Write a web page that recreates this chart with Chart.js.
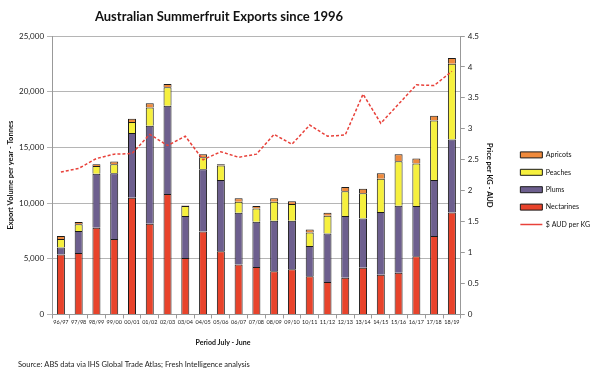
<!DOCTYPE html>
<html>
<head>
<meta charset="utf-8">
<script src="https://cdn.jsdelivr.net/npm/chart.js@4.4.1/dist/chart.umd.min.js"></script>
<style>
  html, body { margin: 0; padding: 0; background: #fff; }
  #wrap { width: 600px; height: 375px; }
</style>
</head>
<body>
<div id="wrap"><canvas id="c" width="600" height="375"></canvas></div>
<script>
const categories = ['96/97','97/98','98/99','99/00','00/01','01/02','02/03','03/04','04/05','05/06','06/07','07/08','08/09','09/10','10/11','11/12','12/13','13/14','14/15','15/16','16/17','17/18','18/19'];
const nectarines = [5380,5520,7780,6760,10480,8140,10810,5070,7450,5680,4480,4260,3870,4050,3420,2910,3300,4200,3570,3750,5230,7030,9150];
const plums      = [620,1960,4860,5910,5800,8800,7930,3760,5580,6390,4650,4060,4540,4360,2730,4360,5530,4420,5620,6010,4500,5040,6550];
const peaches    = [780,620,690,820,990,1650,1650,900,1080,1290,990,1200,1710,1500,1210,1590,2220,2250,3000,4000,3810,5350,6800];
const apricots   = [270,190,160,230,300,360,300,60,280,130,300,210,300,240,270,270,390,420,480,630,450,420,520];
const priceAUD   = [2.30,2.36,2.52,2.59,2.60,2.91,2.73,2.88,2.50,2.63,2.54,2.59,2.91,2.75,3.06,2.88,2.90,3.56,3.09,3.40,3.71,3.70,3.93];
const volumeTicks = [0,5000,10000,15000,20000,25000];
const priceTicks = [0,0.5,1,1.5,2,2.5,3,3.5,4,4.5];

const TITLE = 'Australian Summerfruit Exports since 1996';
const XTITLE = 'Period July - June';
const SOURCE = 'Source: ABS data via IHS Global Trade Atlas; Fresh Intelligence analysis';
const FONT = 'Lato, "Open Sans", sans-serif';

const legendOrder = ['Apricots','Peaches','Plums','Nectarines','$ AUD per KG'];

const barCommon = { borderColor: '#1a1a1a', borderWidth: 1, barPercentage: 0.9, categoryPercentage: 0.5, pointStyle: 'rect', yAxisID: 'y', stack: 's' };

const textPlugin = {
  id: 'texts',
  afterDraw(chart) {
    const ctx = chart.ctx;
    ctx.save();
    ctx.fillStyle = '#111';
    ctx.textBaseline = 'middle';
    ctx.textAlign = 'center';
    ctx.font = 'bold 13px ' + FONT;
    ctx.fillText(TITLE, 219, 17);
    ctx.font = 'bold 7px ' + FONT;
    ctx.fillText(XTITLE, 223, 343);
    ctx.textAlign = 'left';
    ctx.font = '7.5px ' + FONT;
    ctx.fillStyle = '#222';
    ctx.fillText(SOURCE, 18, 365);
    ctx.restore();
  }
};

new Chart(document.getElementById('c'), {
  type: 'bar',
  data: {
    labels: categories,
    datasets: [
      Object.assign({ label: 'Nectarines', data: nectarines, backgroundColor: '#e8432b' }, barCommon),
      Object.assign({ label: 'Plums', data: plums, backgroundColor: '#6d5f8e' }, barCommon),
      Object.assign({ label: 'Peaches', data: peaches, backgroundColor: '#f6f03e' }, barCommon),
      Object.assign({ label: 'Apricots', data: apricots, backgroundColor: '#ef8a3c' }, barCommon),
      { type: 'line', label: '$ AUD per KG', data: priceAUD, yAxisID: 'y1', borderColor: '#e8413a', backgroundColor: '#e8413a',
        borderWidth: 1.5, borderDash: [3, 2], pointRadius: 0, tension: 0, pointStyle: 'line', order: -1 }
    ]
  },
  options: {
    responsive: false,
    animation: false,
    layout: { padding: { top: 36, bottom: 48, left: 6, right: 0 } },
    plugins: {
      tooltip: { enabled: false },
      title: { display: false },
      legend: {
        position: 'right',
        title: { display: true, text: ' ', font: { size: 7, family: FONT }, padding: 4 },
        labels: {
          usePointStyle: true,
          pointStyleWidth: 22,
          boxHeight: 6,
          boxWidth: 22,
          padding: 10.4,
          color: '#111',
          font: { size: 7, family: FONT },
          sort: (a, b) => legendOrder.indexOf(a.text) - legendOrder.indexOf(b.text)
        }
      }
    },
    scales: {
      x: {
        stacked: true,
        grid: { display: true, drawOnChartArea: false, tickLength: 4, color: '#999' },
        border: { color: '#999' },
        ticks: { autoSkip: false, maxRotation: 0, minRotation: 0, padding: 1, color: '#222', font: { size: 5.5, family: FONT } }
      },
      y: {
        stacked: true,
        min: 0, max: 25000,
        afterBuildTicks: s => { s.ticks = volumeTicks.map(v => ({ value: v })); },
        grid: { color: '#b5b5b5', lineWidth: 1, tickLength: 5 },
        border: { color: '#999' },
        ticks: { color: '#222', font: { size: 8, family: FONT }, padding: 3, callback: v => v.toLocaleString('en-US') },
        title: { display: true, text: 'Export Volume per year - Tonnes', color: '#111', font: { size: 7.5, weight: 'bold', family: FONT }, padding: { top: 0, bottom: 1 } }
      },
      y1: {
        position: 'right',
        min: 0, max: 4.5,
        afterBuildTicks: s => { s.ticks = priceTicks.map(v => ({ value: v })); },
        grid: { drawOnChartArea: false, tickLength: 4, color: '#999' },
        border: { color: '#999' },
        ticks: { color: '#222', font: { size: 8, family: FONT }, padding: 3, callback: v => String(v) },
        title: { display: true, text: 'Price per KG - AUD', color: '#111', font: { size: 7.5, weight: 'bold', family: FONT }, padding: { top: 16, bottom: 3 } }
      }
    }
  },
  plugins: [textPlugin]
});
</script>
</body>
</html>
